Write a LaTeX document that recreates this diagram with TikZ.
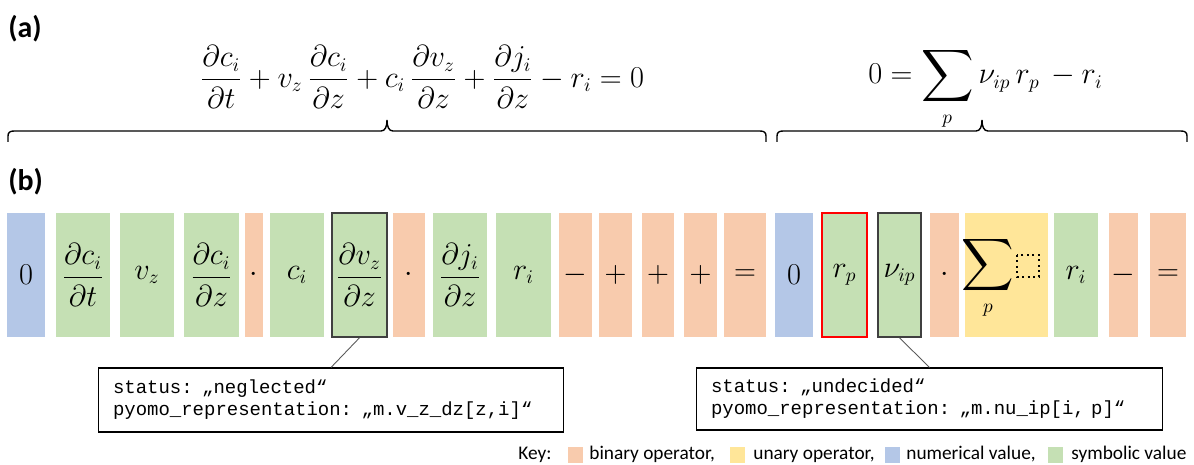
\documentclass[tikz,border=0pt]{standalone}
\usepackage{amsmath}
\usepackage{graphicx}
\usepackage{fontspec}
\setmainfont{Carlito}
\newfontfamily\codefont{Liberation Mono}
\definecolor{binc}{HTML}{F8CBAD}
\definecolor{unc}{HTML}{FFE699}
\definecolor{numc}{HTML}{B4C7E7}
\definecolor{symc}{HTML}{C5E0B4}
\definecolor{edgec}{HTML}{404040}
\definecolor{leadc}{HTML}{595959}
\newcommand\bigsum{\mathop{\vcenter{\hbox{\scalebox{1.2}{$\displaystyle\sum$}}}}\limits}
\newcommand\bx[5]{\node[#2, minimum width={(#4-#3)*0.02cm}] (#1) at ({(#3+#4)/2},275) {#5};}
\tikzset{
  tok/.style={inner sep=0pt, minimum height=2.48cm, font=\fontsize{16}{19}\selectfont},
  bin/.style={tok, fill=binc},
  un/.style={tok, fill=unc},
  num/.style={tok, fill=numc},
  sym/.style={tok, fill=symc},
  marked/.style={draw=edgec, line width=0.9pt},
  chosen/.style={draw=red, line width=1.3pt},
  eq/.style={inner sep=0pt, font=\fontsize{16}{19}\selectfont},
  panel/.style={inner sep=0pt, anchor=north west, font=\fontsize{17}{20}\selectfont\bfseries},
  note/.style={draw=black, line width=0.6pt, inner xsep=0.3cm, inner ysep=0pt, align=left, font=\codefont\fontsize{10.8}{12.6}\selectfont},
  lead/.style={draw=leadc, line width=0.5pt},
  bracepath/.style={draw=black, line width=0.8pt},
  swatch/.style={fill=#1, minimum width=0.3cm, minimum height=0.32cm, inner sep=0pt},
  keytext/.style={anchor=base west, inner sep=0pt, font=\fontsize{11}{13}\selectfont},
}
\begin{document}
\begin{tikzpicture}[x=0.02cm, y=-0.02cm]
\useasboundingbox (0,0) rectangle (1194,465);
% panel labels
\node[panel] (la) at (8,15) {(a)};
\node[panel] (lb) at (8,168) {(b)};
% equations
\node[eq, anchor=west] (eqA) at (200,77) {$\dfrac{\partial c_i}{\partial t} + v_z\,\dfrac{\partial c_i}{\partial z} + c_i\,\dfrac{\partial v_z}{\partial z} + \dfrac{\partial j_i}{\partial z} - r_i = 0$};
\node[eq, anchor=base west] (eqB) at (868,84) {$0 = \bigsum_{p} \nu_{ip}\, r_p\, - r_i$};
% braces
\draw[bracepath] (8,142) -- (8,136) .. controls (8,132.5) and (10,131) .. (14,131) -- (381,131)
  .. controls (385,131) and (387,127) .. (387,120) .. controls (387,127) and (389,131) .. (393,131)
  -- (760,131) .. controls (764,131) and (766,132.5) .. (766,136) -- (766,142);
\draw[bracepath] (777,142) -- (777,136) .. controls (777,132.5) and (779,131) .. (783,131) -- (976,131)
  .. controls (980,131) and (982,127) .. (982,120) .. controls (982,127) and (984,131) .. (988,131)
  -- (1181,131) .. controls (1185,131) and (1187,132.5) .. (1187,136) -- (1187,142);
% token boxes
\bx{t1}{num}{7}{45}{$0$}
\bx{t2}{sym}{56}{110}{$\dfrac{\partial c_i}{\partial t}$}
\bx{t3}{sym}{120}{174}{$v_z$}
\bx{t4}{sym}{184}{239}{$\dfrac{\partial c_i}{\partial z}$}
\bx{t5}{bin}{245}{263}{$\cdot$}
\bx{t6}{sym}{270}{324}{$c_i$}
\bx{t7}{sym,marked}{332}{387}{$\dfrac{\partial v_z}{\partial z}$}
\bx{t8}{bin}{393}{425}{$\cdot$}
\bx{t9}{sym}{433}{487}{$\dfrac{\partial j_i}{\partial z}$}
\bx{t10}{sym}{496}{551}{$r_i$}
\bx{t11}{bin}{559}{592}{$-$}
\bx{t12}{bin}{599}{632}{$+$}
\bx{t13}{bin}{642}{674}{$+$}
\bx{t14}{bin}{684}{717}{$+$}
\bx{t15}{bin}{724}{766}{$=$}
\bx{t16}{num}{775}{813}{$0$}
\bx{t17}{sym,chosen}{822}{867}{$r_p$}
\bx{t18}{sym,marked}{878}{921}{$\nu_{ip}$}
\bx{t19}{bin}{930}{959}{$\cdot$}
\bx{t20}{un}{965}{1048}{}
\bx{t21}{sym}{1054}{1098}{$r_i$}
\bx{t22}{bin}{1109}{1138}{$-$}
\bx{t23}{bin}{1150}{1186}{$=$}
\node[eq] (sumsym) at (988,278) {$\bigsum_{p}$};
\draw[dotted, line width=1.1pt] (1017,255) rectangle (1039,277);
% notes
\node[note, minimum width=9.32cm, minimum height=1.28cm, text width=8.72cm] (note1) at (331,400)
  {status: „neglected“\\pyomo\_representation: „m.v\_z\_dz[z,i]“};
\node[note, minimum width=9.34cm, minimum height=1.24cm, text width=8.74cm] (note2) at (929.5,399)
  {status: „undecided“\\pyomo\_representation: „m.nu\_ip[i, p]“};
\draw[lead] (t7.south) -- (note1.north);
\draw[lead] (t18.south) -- (note2.north);
% key
\node[keytext] (kt) at (518,460) {Key:};
\node[swatch=binc] (k1) at (575.5,455) {};
\node[keytext] (k1t) at (589,460) {binary operator,};
\node[swatch=unc] (k2) at (737,455) {};
\node[keytext] (k2t) at (753,460) {unary operator,};
\node[swatch=numc] (k3) at (892,455) {};
\node[keytext] (k3t) at (906,460) {numerical value,};
\node[swatch=symc] (k4) at (1055.5,455) {};
\node[keytext] (k4t) at (1071,460) {symbolic value};
\end{tikzpicture}
\end{document}
